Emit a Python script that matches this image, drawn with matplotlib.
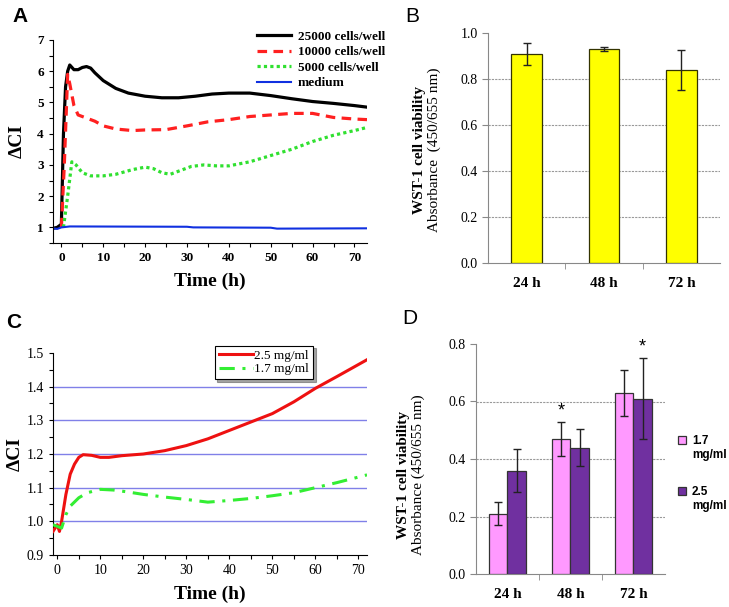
import numpy as np
import matplotlib
matplotlib.use("Agg")
import matplotlib.pyplot as plt
from matplotlib.ticker import MultipleLocator, FixedLocator

# ---- panel A: impedance, cell density ----
t_black = [-2, -1, 0, 0.5, 1, 1.5, 2, 3, 4, 5, 6, 7, 8, 10, 13, 16, 20, 24, 28, 32, 36, 40, 45, 50, 55, 60, 65, 70, 73]
v_black = [0.97, 1.0, 1.1, 4.0, 5.5, 6.0, 6.2, 6.05, 6.05, 6.12, 6.15, 6.1, 5.95, 5.7, 5.45, 5.3, 5.2, 5.15, 5.15, 5.2, 5.27, 5.3, 5.3, 5.22, 5.12, 5.03, 4.97, 4.9, 4.85]
t_red = [0, 0.7, 1.5, 2, 3, 4, 6, 8, 10, 13, 17, 20, 25, 30, 35, 40, 45, 50, 55, 60, 65, 70, 73]
v_red = [1.0, 3.0, 5.9, 5.6, 4.9, 4.6, 4.5, 4.4, 4.25, 4.15, 4.1, 4.12, 4.13, 4.25, 4.38, 4.45, 4.55, 4.6, 4.65, 4.65, 4.52, 4.47, 4.45]
t_green = [0.5, 1.5, 2.5, 3.5, 5, 7, 10, 13, 17, 20, 22, 24, 26, 28, 31, 34, 37, 40, 45, 50, 55, 60, 65, 70, 73]
v_green = [1.0, 2.0, 3.1, 3.0, 2.75, 2.65, 2.65, 2.7, 2.85, 2.93, 2.88, 2.75, 2.7, 2.8, 2.95, 3.0, 2.97, 2.97, 3.1, 3.3, 3.5, 3.75, 3.95, 4.1, 4.2]
t_blue = [-2, -1, 0, 2, 30, 31.5, 50, 51.5, 73]
v_blue = [0.97, 0.95, 1.0, 1.03, 1.02, 1.0, 0.99, 0.96, 0.97]
labels_a = ["25000 cells/well", "10000 cells/well", "5000 cells/well", "medium"]

# ---- panel B: WST-1, 24/48/72 h ----
times = ["24 h", "48 h", "72 h"]
wst_b = [0.91, 0.93, 0.84]
err_b = [0.047, 0.01, 0.088]

# ---- panel C: impedance, concentration ----
t_c25 = [-1, 0, 0.5, 1, 2, 3, 4, 5, 6, 8, 10, 12, 15, 20, 25, 30, 35, 40, 45, 50, 55, 60, 65, 72]
v_c25 = [0.97, 0.99, 0.97, 1.0, 1.08, 1.14, 1.17, 1.19, 1.198, 1.196, 1.19, 1.19, 1.195, 1.2, 1.21, 1.225, 1.245, 1.27, 1.295, 1.32, 1.355, 1.395, 1.43, 1.48]
t_c17 = [-1, 0, 1, 2, 3, 5, 7, 10, 13, 16, 20, 25, 30, 35, 40, 45, 50, 55, 60, 65, 72]
v_c17 = [0.99, 0.985, 0.98, 1.02, 1.045, 1.07, 1.085, 1.095, 1.093, 1.088, 1.08, 1.072, 1.065, 1.057, 1.062, 1.068, 1.076, 1.085, 1.1, 1.115, 1.138]

# ---- panel D: WST-1 by concentration ----
conc = ["1.7", "2.5"]
wst_17 = [0.21, 0.47, 0.63]
err_17 = [0.04, 0.058, 0.08]
wst_25 = [0.36, 0.44, 0.61]
err_25 = [0.075, 0.065, 0.14]
star_17 = [False, True, False]
star_25 = [False, False, True]

SERIF = "Liberation Serif"
SANS = "Liberation Sans"
W, H = 729, 607

fig = plt.figure(figsize=(W / 100, H / 100), dpi=100)

def box(l, t, r, b):
    return [l / W, 1 - b / H, (r - l) / W, (b - t) / H]

def serif_ticks(ax, size, weight):
    for lab in ax.get_xticklabels() + ax.get_yticklabels():
        lab.set_fontfamily(SERIF)
        lab.set_fontsize(size)
        lab.set_fontweight(weight)

# ---------- A ----------
axA = fig.add_axes(box(53, 40, 367, 243))
axA.plot(t_black, v_black, color="black", lw=2.3, label=labels_a[0])
axA.plot(t_red, v_red, color="#ff2020", lw=2.3, ls=(0, (3, 2)), label=labels_a[1])
axA.plot(t_green, v_green, color="#30e030", lw=2.3, ls=(0, (1, 1)), label=labels_a[2])
axA.plot(t_blue, v_blue, color="#1030e0", lw=1.5, label=labels_a[3])
axA.set_xlim(-2, 73)
axA.set_ylim(0.5, 7)
axA.set_yticks(range(1, 8))
axA.set_xticks(range(0, 71, 10))
axA.xaxis.set_minor_locator(MultipleLocator(5))
axA.yaxis.set_minor_locator(MultipleLocator(0.5))
for s in ["top", "right"]:
    axA.spines[s].set_visible(False)
axA.tick_params(which="both", direction="out", length=3, width=0.8)
serif_ticks(axA, 9.5, "bold")
axA.set_xlabel("Time (h)", fontfamily=SERIF, fontsize=14, fontweight="bold", labelpad=6)
axA.set_ylabel("ΔCI", fontfamily=SERIF, fontsize=14, fontweight="bold", labelpad=8)
axA.legend(loc="upper left", bbox_to_anchor=(250 / W, 1 - 24 / H), bbox_transform=fig.transFigure,
           frameon=False, prop=dict(family=SERIF, weight="bold", size=9.5),
           handlelength=2.6, handletextpad=0.5, labelspacing=0.25, borderpad=0)
fig.text(12 / W, 1 - 16 / H, "A", fontfamily=SANS, fontweight="bold", fontsize=15, va="center", ha="left")

# ---------- B ----------
axB = fig.add_axes(box(488, 33, 720, 263))
xb = np.arange(len(times))
axB.bar(xb, wst_b, width=0.4, color="#ffff00", edgecolor="#333300", lw=0.9, zorder=3)
axB.errorbar(xb, wst_b, yerr=err_b, fmt="none", ecolor="#222222", elinewidth=1, capsize=3, zorder=4)
axB.set_xlim(-0.5, 2.5)
axB.set_ylim(0, 1.0)
axB.set_yticks(np.arange(0, 1.01, 0.2))
axB.set_yticklabels([f"{v:.1f}" for v in np.arange(0, 1.01, 0.2)])
axB.set_xticks(xb)
axB.set_xticklabels(times)
axB.xaxis.set_minor_locator(FixedLocator([0.5, 1.5]))
axB.tick_params(axis="x", which="major", length=0, pad=10)
axB.tick_params(axis="x", which="minor", length=4, color="#888888")
axB.tick_params(axis="y", length=4, color="#888888")
for s in ["top", "right"]:
    axB.spines[s].set_visible(False)
for s in ["left", "bottom"]:
    axB.spines[s].set_color("#888888")
for y in [0.2, 0.4, 0.6, 0.8]:
    axB.axhline(y, color="#999999", lw=0.8, ls=(0, (2, 1)), zorder=1)
serif_ticks(axB, 10, "normal")
for lab in axB.get_xticklabels():
    lab.set_fontweight("bold")
    lab.set_fontsize(11)
fig.text(419 / W, 1 - 150 / H, "WST-1 cell viability", rotation=90, fontfamily=SERIF, fontweight="bold",
         fontsize=11, ha="center", va="center")
fig.text(434 / W, 1 - 150 / H, "Absorbance  (450/655 nm)", rotation=90, fontfamily=SERIF,
         fontsize=11, ha="center", va="center")
fig.text(405 / W, 1 - 17 / H, "B", fontfamily=SANS, fontsize=15, va="center", ha="left")

# ---------- C ----------
axC = fig.add_axes(box(53, 353, 367, 555))
for y in [1.0, 1.1, 1.2, 1.3, 1.4]:
    axC.axhline(y, color="#8080e8", lw=1.0, zorder=1)
axC.plot(t_c25, v_c25, color="#ee1111", lw=2.2, label="2.5 mg/ml", zorder=3)
axC.plot(t_c17, v_c17, color="#33ee33", lw=2.2, ls=(0, (5, 2.5, 1, 2.5)), label="1.7 mg/ml", zorder=3)
axC.set_xlim(-1, 72)
axC.set_ylim(0.9, 1.5)
axC.set_yticks(np.arange(0.9, 1.51, 0.1))
axC.set_yticklabels([f"{v:.1f}" for v in np.arange(0.9, 1.51, 0.1)])
axC.set_xticks(range(0, 71, 10))
axC.xaxis.set_minor_locator(MultipleLocator(5))
axC.yaxis.set_minor_locator(MultipleLocator(0.05))
for s in ["top", "right"]:
    axC.spines[s].set_visible(False)
axC.tick_params(which="both", direction="out", length=3, width=0.8)
serif_ticks(axC, 10, "normal")
axC.set_xlabel("Time (h)", fontfamily=SERIF, fontsize=14, fontweight="bold", labelpad=6)
axC.set_ylabel("ΔCI", fontfamily=SERIF, fontsize=14, fontweight="bold", labelpad=2)
legC = axC.legend(loc="upper left", bbox_to_anchor=(208 / W, 1 - 339 / H), bbox_transform=fig.transFigure,
                  fancybox=False, shadow=True, edgecolor="black", framealpha=1,
                  prop=dict(family=SERIF, size=9.5), handlelength=2.6, handletextpad=0.1,
                  labelspacing=0.1, borderpad=0.3)
legC.get_frame().set_linewidth(0.8)
fig.text(6 / W, 1 - 322 / H, "C", fontfamily=SANS, fontweight="bold", fontsize=15, va="center", ha="left")

# ---------- D ----------
axD = fig.add_axes(box(476, 344, 665, 574))
xd = np.arange(len(times))
bw = 0.29
axD.bar(xd - bw / 2, wst_17, width=bw, color="#ff99ff", edgecolor="#333333", lw=0.9, zorder=3, label=conc[0])
axD.bar(xd + bw / 2, wst_25, width=bw, color="#7030a0", edgecolor="#333333", lw=0.9, zorder=3, label=conc[1])
axD.errorbar(xd - bw / 2, wst_17, yerr=err_17, fmt="none", ecolor="#222222", elinewidth=1, capsize=3, zorder=4)
axD.errorbar(xd + bw / 2, wst_25, yerr=err_25, fmt="none", ecolor="#222222", elinewidth=1, capsize=3, zorder=4)
for i in range(len(times)):
    if star_17[i]:
        axD.text(xd[i] - bw / 2, wst_17[i] + err_17[i] + 0.01, "*", ha="center", va="bottom",
                 fontfamily=SANS, fontsize=13)
    if star_25[i]:
        axD.text(xd[i] + bw / 2, wst_25[i] + err_25[i] + 0.01, "*", ha="center", va="bottom",
                 fontfamily=SANS, fontsize=13)
axD.set_xlim(-0.5, 2.5)
axD.set_ylim(0, 0.8)
axD.set_yticks(np.arange(0, 0.81, 0.2))
axD.set_yticklabels([f"{v:.1f}" for v in np.arange(0, 0.81, 0.2)])
axD.set_xticks(xd)
axD.set_xticklabels(times)
axD.xaxis.set_minor_locator(FixedLocator([0.5, 1.5]))
axD.tick_params(axis="x", which="major", length=0, pad=10)
axD.tick_params(axis="x", which="minor", length=4, color="#888888")
axD.tick_params(axis="y", length=4, color="#888888")
for s in ["top", "right"]:
    axD.spines[s].set_visible(False)
for s in ["left", "bottom"]:
    axD.spines[s].set_color("#888888")
for y in [0.2, 0.4, 0.6]:
    axD.axhline(y, color="#999999", lw=0.8, ls=(0, (2, 1)), zorder=1)
serif_ticks(axD, 10, "normal")
for lab in axD.get_xticklabels():
    lab.set_fontweight("bold")
    lab.set_fontsize(11)
# legend: square next to the number, unit written on the line below it
legD = axD.legend(loc="upper left", bbox_to_anchor=(672 / W, 1 - 429 / H), bbox_transform=fig.transFigure,
                  frameon=False, prop=dict(family=SANS, weight="bold", size=8.5),
                  handlelength=0.7, handleheight=0.7, handletextpad=0.5, labelspacing=3.3, borderpad=0)
fig.canvas.draw()
inv = fig.transFigure.inverted()
for txt in legD.get_texts():
    bb = txt.get_window_extent()
    x0, y0 = inv.transform((bb.x0, bb.y0))
    fig.text(x0, y0 - 2 / H, "mg/ml", fontfamily=SANS, fontweight="bold", fontsize=8.5, ha="left", va="top")
fig.text(403 / W, 1 - 475 / H, "WST-1 cell viability", rotation=90, fontfamily=SERIF, fontweight="bold",
         fontsize=11, ha="center", va="center")
fig.text(418 / W, 1 - 475 / H, "Absorbance (450/655 nm)", rotation=90, fontfamily=SERIF,
         fontsize=11, ha="center", va="center")
fig.text(402 / W, 1 - 318 / H, "D", fontfamily=SANS, fontsize=15, va="center", ha="left")

fig.savefig("out.png", dpi=100)
